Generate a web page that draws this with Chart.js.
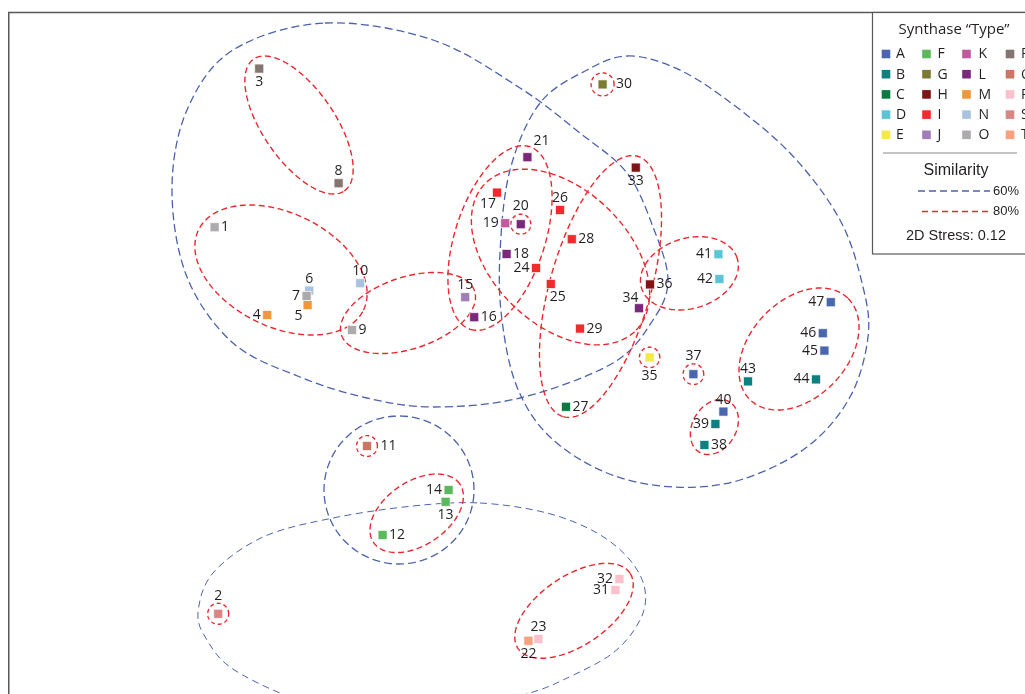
<!DOCTYPE html>
<html>
<head>
<meta charset="utf-8">
<script src="https://cdn.jsdelivr.net/npm/chart.js@4/dist/chart.umd.min.js"></script>
<style>
  html, body { margin: 0; padding: 0; overflow: hidden; background: #ffffff; }
  #wrap { position: absolute; left: 0; top: 0; width: 1100px; height: 760px; }
</style>
</head>
<body>
<div id="wrap"><canvas id="nmds" width="1100" height="760"></canvas></div>
<script>
// ---- NMDS ordination of the 47 synthases (2D coordinates) ----
const pointIds = [1,2,3,4,5,6,7,8,9,10,11,12,13,14,15,16,17,18,19,20,21,22,23,24,25,26,27,28,29,30,31,32,33,34,35,36,37,38,39,40,41,42,43,44,45,46,47];
const nmdsX = [-1.527,-1.509,-1.304,-1.264,-1.062,-1.054,-1.067,-0.907,-0.840,-0.799,-0.765,-0.687,-0.372,-0.357,-0.274,-0.229,-0.115,-0.067,-0.074,0.004,0.037,0.042,0.092,0.080,0.154,0.200,0.230,0.259,0.300,0.413,0.477,0.497,0.579,0.595,0.648,0.650,0.867,0.922,0.977,1.017,0.992,0.997,1.140,1.480,1.522,1.514,1.554];
const nmdsY = [0.614,-1.319,1.407,0.175,0.225,0.297,0.270,0.834,0.100,0.334,-0.480,-0.925,-0.759,-0.700,0.264,0.164,0.787,0.480,0.634,0.629,0.964,-1.454,-1.445,0.410,0.330,0.700,-0.284,0.554,0.107,1.328,-1.200,-1.145,0.912,0.209,-0.037,0.328,-0.121,-0.475,-0.370,-0.308,0.479,0.355,-0.157,-0.147,-0.003,0.084,0.239];
const pointType = ['O','S','P','M','M','N','O','P','O','N','Q','F','F','F','J','L','I','L','K','L','L','T','R','I','I','I','C','I','I','G','R','R','H','L','E','H','A','B','B','A','D','D','B','B','A','A','A'];

// synthase types shown in the key (column-major, 5 rows)
const typeCodes  = ['A','B','C','D','E','F','G','H','I','J','K','L','M','N','O','P','Q','R','S','T'];
const typeColors = ['#4a66ac','#0f8080','#0a7a42','#5bc5d5','#f5e84a','#5cb85c','#7a7a35','#7d1416','#ef2b2b','#a07fb8',
                    '#c05a9e','#7a287a','#f0963c','#a9c2de','#acaaac','#857570','#cc7565','#f9c1cc','#d98585','#f9a07e'];

// 60% similarity outlines (closed curves through data-space vertices)
const outline60North = [[-0.975,1.635],[-0.435,1.55],[0,1.31],[0.30,1.085],[0.535,0.885],[0.665,0.615],[0.74,0.35],[0.665,0.15],[0.465,-0.065],[0,-0.24],[-0.435,-0.285],[-0.765,-0.24],[-1.10,-0.135],[-1.435,0.035],[-1.665,0.365],[-1.74,0.80],[-1.665,1.20],[-1.435,1.50]];
const outline60East = [[0.535,1.47],[0.765,1.415],[1.015,1.265],[1.35,0.985],[1.60,0.65],[1.715,0.315],[1.74,0.065],[1.65,-0.235],[1.435,-0.485],[1.10,-0.65],[0.765,-0.685],[0.435,-0.615],[0.15,-0.435],[-0.015,-0.185],[-0.09,0.15],[-0.10,0.485],[-0.05,0.90],[0.10,1.235],[0.335,1.40]];
const outline60South = [[-0.20,-0.765],[0.135,-0.815],[0.385,-0.915],[0.55,-1.05],[0.625,-1.20],[0.60,-1.35],[0.465,-1.515],[0.215,-1.65],[0.05,-1.715],[-0.25,-1.80],[-0.60,-1.83],[-0.95,-1.79],[-1.20,-1.715],[-1.45,-1.585],[-1.565,-1.45],[-1.61,-1.315],[-1.535,-1.115],[-1.285,-0.935],[-0.935,-0.84],[-0.535,-0.78]];
// ellipses: [centre x, centre y, semi-axis 1, semi-axis 2, rotation deg]
const ellipses60 = [[-0.605,-0.70,0.375,0.37,0]];
const ellipses80 = [
  [-1.105,1.125,0.40,0.18,-55.5],
  [-1.195,0.40,0.4585,0.2845,-25.9],
  [-0.56,0.185,0.3505,0.1795,18.2],
  [-0.10,0.56,0.48,0.225,-108],
  [0.2025,0.465,0.526,0.339,-44],
  [0.4025,0.3175,0.677,0.252,-105.9],
  [0.847,0.3835,0.2505,0.1755,17.3],
  [1.395,0.005,0.3525,0.2425,46.3],
  [0.972,-0.385,0.1465,0.109,59],
  [-0.5165,-0.8165,0.2605,0.159,34],
  [0.27,-1.304,0.3375,0.1735,34]
];
// single-member 80% groups: circle around the point itself
const singletonIds = [2,11,20,30,35,37];
const singletonRadius = [0.0525,0.052,0.05,0.0575,0.051,0.0515];

// where each number sits relative to its marker
const labelSide = ['r','T','b','l','bl','t','l','t','r','t','R','r','b','l','t','r','bl','r','l','T','tr','b','t','l','br','t','r','r','r','R','l','l','b','tl','B','r','T','r','l','t','l','l','t','l','l','l','l'];

const BLUE = '#4c62aa';
const RED = '#e8282e';
const INK = '#231f20';
const MYRIAD = '"Open Sans", "Noto Sans", sans-serif';
const ARIAL = '"Liberation Sans", Arial, sans-serif';

const colorOf = t => typeColors[typeCodes.indexOf(t)];

function ellipsePath(ctx, xs, ys, e) {
  const [cx, cy, ra, rb, deg] = e;
  const phi = deg * Math.PI / 180;
  const n = 160;
  ctx.beginPath();
  for (let i = 0; i <= n; i++) {
    const t = 2 * Math.PI * i / n;
    const dx = ra * Math.cos(t), dy = rb * Math.sin(t);
    const X = cx + dx * Math.cos(phi) - dy * Math.sin(phi);
    const Y = cy + dx * Math.sin(phi) + dy * Math.cos(phi);
    const px = xs.getPixelForValue(X), py = ys.getPixelForValue(Y);
    if (i === 0) ctx.moveTo(px, py); else ctx.lineTo(px, py);
  }
  ctx.closePath();
}

function closedSplinePath(ctx, xs, ys, verts) {
  const P = verts.map(v => [xs.getPixelForValue(v[0]), ys.getPixelForValue(v[1])]);
  const n = P.length;
  ctx.beginPath();
  ctx.moveTo(P[0][0], P[0][1]);
  for (let i = 0; i < n; i++) {
    const p0 = P[(i - 1 + n) % n], p1 = P[i], p2 = P[(i + 1) % n], p3 = P[(i + 2) % n];
    ctx.bezierCurveTo(
      p1[0] + (p2[0] - p0[0]) / 6, p1[1] + (p2[1] - p0[1]) / 6,
      p2[0] - (p3[0] - p1[0]) / 6, p2[1] - (p3[1] - p1[1]) / 6,
      p2[0], p2[1]);
  }
  ctx.closePath();
}

const similarityOutlines = {
  id: 'similarityOutlines',
  beforeDatasetsDraw(chart) {
    const { ctx, scales: { x, y } } = chart;
    ctx.save();
    ctx.lineJoin = 'round';
    // 60% groups
    ctx.strokeStyle = BLUE;
    ctx.lineWidth = 1.3;
    ctx.setLineDash([8, 4]);
    [outline60North, outline60East].forEach(v => { closedSplinePath(ctx, x, y, v); ctx.stroke(); });
    ellipses60.forEach(e => { ellipsePath(ctx, x, y, e); ctx.stroke(); });
    ctx.lineWidth = 1;
    ctx.setLineDash([7, 4.5]);
    closedSplinePath(ctx, x, y, outline60South); ctx.stroke();
    // 80% groups
    ctx.strokeStyle = RED;
    ctx.lineWidth = 1.4;
    ctx.setLineDash([6, 3.5]);
    ellipses80.forEach(e => { ellipsePath(ctx, x, y, e); ctx.stroke(); });
    ctx.setLineDash([4, 3]);
    singletonIds.forEach((id, k) => {
      const i = pointIds.indexOf(id);
      const r = singletonRadius[k];
      ellipsePath(ctx, x, y, [nmdsX[i], nmdsY[i], r, r, 0]);
      ctx.stroke();
    });
    ctx.restore();
  }
};

const LABEL_OFFSETS = {
  r:  [6.5, 0, 'left'],   R:  [13.5, 0, 'left'],
  l:  [-6.5, 0, 'right'],
  t:  [0, -12, 'center'], T: [0, -18, 'center'],
  b:  [0, 13.5, 'center'],    B: [0, 19, 'center'],
  tr: [14, -16, 'center'],  tl: [-8.5, -10.5, 'center'],
  bl: [-9, 11, 'center'],   br: [7, 13.5, 'center']
};

const pointNumbers = {
  id: 'pointNumbers',
  afterDatasetsDraw(chart) {
    const { ctx } = chart;
    const meta = chart.getDatasetMeta(0);
    ctx.save();
    ctx.fillStyle = INK;
    ctx.font = '14px ' + MYRIAD;
    ctx.textBaseline = 'middle';
    meta.data.forEach((el, i) => {
      const [dx, dy, align] = LABEL_OFFSETS[labelSide[i]];
      ctx.textAlign = align;
      ctx.fillText(String(pointIds[i]), el.x + dx, el.y + dy);
    });
    ctx.restore();
  }
};

const frameAndKey = {
  id: 'frameAndKey',
  afterDraw(chart) {
    const { ctx, chartArea: a } = chart;
    ctx.save();
    // plot frame
    ctx.strokeStyle = '#58595b';
    ctx.lineWidth = 1.5;
    ctx.strokeRect(a.left - 1.25, a.top - 0.5, a.right - a.left + 2, a.bottom - a.top + 1);

    // key box
    const bx = 872.5, by = 12.5, bw = 300, bh = 241.5;
    ctx.fillStyle = '#ffffff';
    ctx.fillRect(bx, by, bw, bh);
    ctx.lineWidth = 1.2;
    ctx.strokeRect(bx, by, bw, bh);

    ctx.fillStyle = INK;
    ctx.textBaseline = 'middle';
    ctx.textAlign = 'center';
    ctx.font = '15px ' + MYRIAD;
    ctx.fillText('Synthase \u201CType\u201D', 954, 29.5);

    const colSwatch = [886, 926.5, 966.5, 1010];
    const colText = [896, 937.5, 978.5, 1021];
    ctx.font = '14px ' + MYRIAD;
    ctx.textAlign = 'left';
    typeCodes.forEach((code, k) => {
      const col = Math.floor(k / 5), row = k % 5;
      const yy = 54 + row * 20.2;
      ctx.fillStyle = typeColors[k];
      ctx.fillRect(colSwatch[col] - 4.3, yy - 4.3, 8.6, 8.6);
      ctx.fillStyle = INK;
      ctx.fillText(code, colText[col], yy + 0.5);
    });

    ctx.strokeStyle = '#8a8a8a';
    ctx.lineWidth = 1;
    ctx.beginPath(); ctx.moveTo(883, 153); ctx.lineTo(1017, 153); ctx.stroke();

    ctx.textAlign = 'center';
    ctx.font = '16px ' + ARIAL;
    ctx.fillText('Similarity', 956, 171);

    ctx.lineWidth = 1.3;
    ctx.strokeStyle = BLUE;
    ctx.setLineDash([7, 4]);
    ctx.beginPath(); ctx.moveTo(918, 191); ctx.lineTo(990, 191); ctx.stroke();
    ctx.strokeStyle = RED;
    ctx.setLineDash([6, 4]);
    ctx.beginPath(); ctx.moveTo(922, 211.5); ctx.lineTo(988, 211.5); ctx.stroke();
    ctx.setLineDash([]);

    ctx.textAlign = 'left';
    ctx.font = '13px ' + ARIAL;
    ctx.fillText('60%', 993, 191);
    ctx.fillText('80%', 993, 211.5);

    ctx.textAlign = 'center';
    ctx.font = '14.5px ' + ARIAL;
    ctx.fillText('2D Stress: 0.12', 956, 236);
    ctx.restore();
  }
};

const points = pointIds.map((id, i) => ({ x: nmdsX[i], y: nmdsY[i] }));

new Chart(document.getElementById('nmds'), {
  type: 'scatter',
  data: {
    datasets: [{
      label: 'Synthases',
      data: points,
      pointStyle: 'rect',
      pointRadius: 6.4,
      pointHoverRadius: 6.4,
      backgroundColor: pointType.map(colorOf),
      borderColor: 'rgba(255,255,255,0.85)',
      borderWidth: 0.8
    }]
  },
  options: {
    responsive: false,
    devicePixelRatio: 1,
    animation: false,
    layout: { padding: { left: 10, top: 13, right: 10, bottom: 10 } },
    scales: {
      x: { type: 'linear', min: -2.55, max: 2.85, display: false },
      y: { type: 'linear', min: -2.0, max: 1.685, display: false }
    },
    plugins: { legend: { display: false }, tooltip: { enabled: false } },
    events: []
  },
  plugins: [similarityOutlines, pointNumbers, frameAndKey]
});
</script>
</body>
</html>
